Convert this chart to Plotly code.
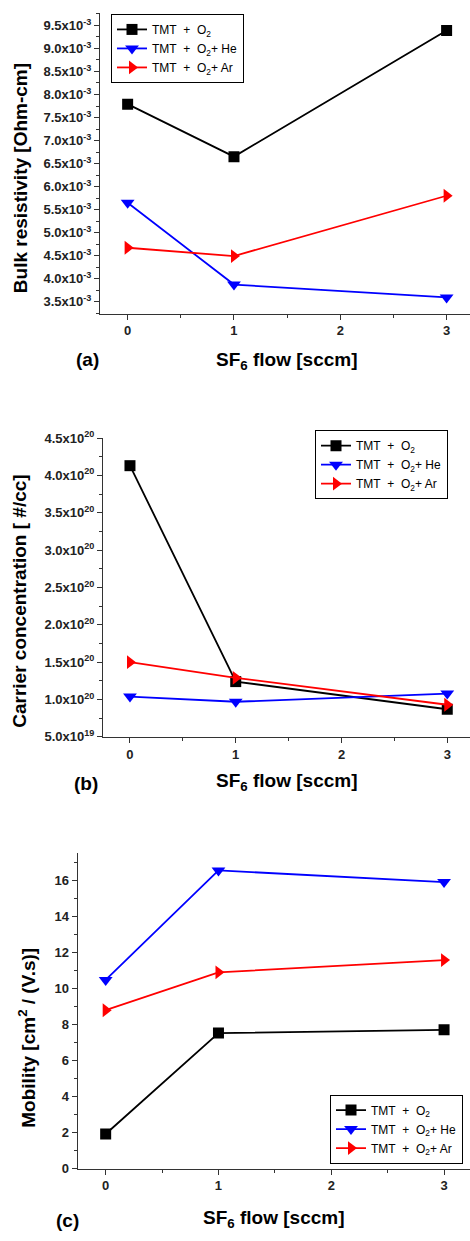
import plotly.graph_objects as go

# ---------------- data ----------------
sf6_flow = [0, 1, 3]
series_names = ["TMT&nbsp; +&nbsp; O<sub>2</sub>",
                "TMT&nbsp; +&nbsp; O<sub>2</sub>+ He",
                "TMT&nbsp; +&nbsp; O<sub>2</sub>+ Ar"]

resistivity_o2 = [7.79e-3, 6.65e-3, 9.39e-3]
resistivity_he = [5.65e-3, 3.87e-3, 3.59e-3]
resistivity_ar = [4.67e-3, 4.49e-3, 5.80e-3]

carrier_o2 = [4.13e20, 1.24e20, 0.87e20]
carrier_he = [1.04e20, 0.97e20, 1.08e20]
carrier_ar = [1.50e20, 1.29e20, 0.93e20]

mobility_o2 = [1.92, 7.52, 7.70]
mobility_he = [10.47, 16.55, 15.90]
mobility_ar = [8.79, 10.89, 11.57]

res_tick_mant = ["3.5", "4.0", "4.5", "5.0", "5.5", "6.0", "6.5", "7.0", "7.5", "8.0", "8.5", "9.0", "9.5"]
car_tick_vals = [0.5e20, 1.0e20, 1.5e20, 2.0e20, 2.5e20, 3.0e20, 3.5e20, 4.0e20, 4.5e20]
car_tick_text = ["5.0x10<sup>19</sup>", "1.0x10<sup>20</sup>", "1.5x10<sup>20</sup>", "2.0x10<sup>20</sup>",
                 "2.5x10<sup>20</sup>", "3.0x10<sup>20</sup>", "3.5x10<sup>20</sup>", "4.0x10<sup>20</sup>",
                 "4.5x10<sup>20</sup>"]
mob_tick_vals = [0, 2, 4, 6, 8, 10, 12, 14, 16]

res_tick_vals = [float(m) * 1e-3 for m in res_tick_mant]
res_tick_text = [m + "x10<sup>-3</sup>" for m in res_tick_mant]

# ---------------- style ----------------
W, H = 470, 1241
colors = ["#000000", "#0000FF", "#FF0000"]
symbols = ["square", "triangle-down", "triangle-right"]
msizes = [11, 12, 12]
FONT = "Liberation Sans, Arial, sans-serif"

fig = go.Figure()

panels = [
    ([resistivity_o2, resistivity_he, resistivity_ar], "x", "y", "legend"),
    ([carrier_o2, carrier_he, carrier_ar], "x2", "y2", "legend2"),
    ([mobility_o2, mobility_he, mobility_ar], "x3", "y3", "legend3"),
]
for ys, xa, ya, lg in panels:
    for i, yv in enumerate(ys):
        fig.add_trace(go.Scatter(
            x=sf6_flow, y=yv, mode="lines+markers", name=series_names[i],
            xaxis=xa, yaxis=ya, legend=lg,
            line=dict(color=colors[i], width=1.8),
            marker=dict(symbol=symbols[i], size=msizes[i], color=colors[i]),
        ))

def px_x(p):
    return p / W

def px_y(p):
    return 1 - p / H

tickfont = dict(family=FONT, size=13, color="#222", weight="bold")

def xaxis(dom, rng, anchor):
    return dict(domain=dom, range=rng, anchor=anchor, tickmode="array", tickvals=[0, 1, 2, 3],
                ticks="outside", ticklen=5, tickcolor="#333", showline=True, linecolor="#333",
                linewidth=1.2, showgrid=False, zeroline=False, tickfont=tickfont,
                minor=dict(tickmode="linear", tick0=0, dtick=0.5, ticks="outside", ticklen=3, tickcolor="#333"))

def yaxis(dom, rng, anchor, tv, tt, mdt):
    return dict(domain=dom, range=rng, anchor=anchor, tickmode="array", tickvals=tv, ticktext=tt,
                ticks="outside", ticklen=5, tickcolor="#333", showline=True, linecolor="#333",
                linewidth=1.2, showgrid=False, zeroline=False, tickfont=tickfont,
                minor=dict(tickmode="linear", tick0=tv[0], dtick=mdt, ticks="outside", ticklen=3, tickcolor="#333"))

legfont = dict(family=FONT, size=12, color="#000")

def legend(x_right, y_top):
    return dict(x=px_x(x_right), y=px_y(y_top), xanchor="right", yanchor="top", bgcolor="white",
                bordercolor="#000", borderwidth=1, font=legfont, tracegroupgap=0, itemwidth=30)

fig.update_layout(
    width=W, height=H, margin=dict(l=0, r=0, t=0, b=0),
    paper_bgcolor="white", plot_bgcolor="white",
    xaxis=xaxis([px_x(100), 1], [-0.26, 3.22], "y"),
    yaxis=yaxis([px_y(309), px_y(4)], [3.236e-3, 9.772e-3], "x", res_tick_vals, res_tick_text, 0.25e-3),
    xaxis2=xaxis([px_x(103), 1], [-0.255, 3.215], "y2"),
    yaxis2=yaxis([px_y(738), px_y(435)], [0.5e20, 4.5e20], "x2", car_tick_vals, car_tick_text, 0.25e20),
    xaxis3=xaxis([px_x(77.7), 1], [-0.248, 3.23], "y3"),
    yaxis3=yaxis([px_y(1175.7), px_y(856)], [0, 17.5], "x3", mob_tick_vals, [str(v) for v in mob_tick_vals], 1),
    legend=legend(244, 5),
    legend2=legend(448, 427),
    legend3=legend(463, 1100.7),
    showlegend=True,
)

titlefont = dict(family=FONT, size=19, color="#000", weight="bold")
annots = [
    ("Bulk resistivity [Ohm-cm]", 20.5, 172, -90),
    ("Carrier concentration [ #/cc]", 20, 601, -90),
    ("Mobility [cm<sup>2</sup> / (V.s)]", 27, 1043, -90),
    ("SF<sub>6</sub> flow [sccm]", 287, 357, 0),
    ("SF<sub>6</sub> flow [sccm]", 287, 784, 0),
    ("SF<sub>6</sub> flow [sccm]", 274, 1227, 0),
    ("(a)", 87.5, 355, 0),
    ("(b)", 86, 785, 0),
    ("(c)", 67, 1228, 0),
]
for text, x, y, ang in annots:
    fig.add_annotation(text=text, x=px_x(x), y=px_y(y), xref="paper", yref="paper",
                       xanchor="center", yanchor="middle", showarrow=False, textangle=ang,
                       font=titlefont)

fig.write_html("out.html", config={"displayModeBar": False},
               post_script="document.body.style.margin='0';document.body.style.overflow='hidden';")
